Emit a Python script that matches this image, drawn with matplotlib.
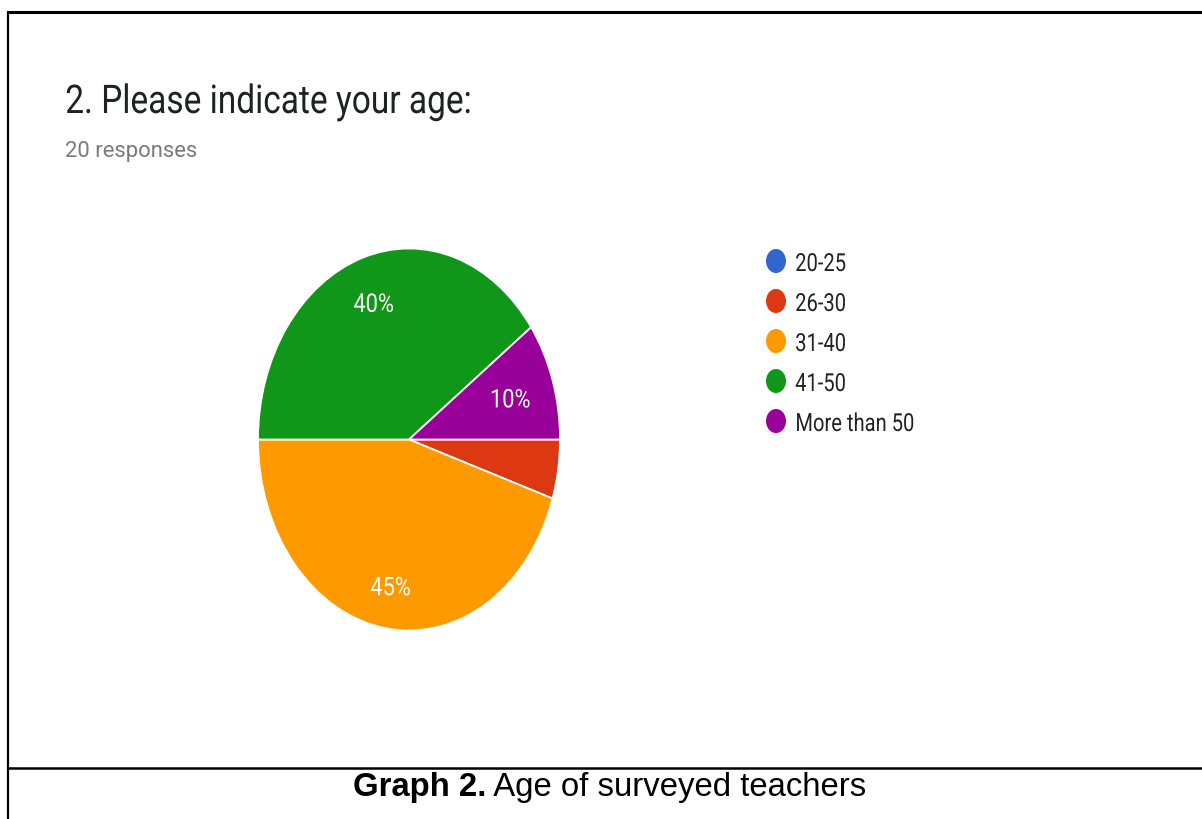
import numpy as np
import matplotlib
matplotlib.use("Agg")
import matplotlib.pyplot as plt
from matplotlib.lines import Line2D
from matplotlib.patches import Ellipse
from matplotlib.patheffects import AbstractPathEffect
from matplotlib.transforms import Affine2D

# Survey data
categories = ["20-25", "26-30", "31-40", "41-50", "More than 50"]
counts = [0, 1, 9, 8, 2]
colors = ["#3366CC", "#DC3912", "#FF9900", "#109618", "#990099"]
title_text = "2. Please indicate your age:"
subtitle_text = "20 responses"
caption_bold = "Graph 2."
caption_rest = " Age of surveyed teachers"

# Radial position of each percentage label (fraction of the radius)
label_radius = [0.75, 0.75, 0.775, 0.755, 0.705]

W, H = 1202, 819


class Narrow(AbstractPathEffect):
    """Draw text glyphs horizontally compressed about an anchor."""

    def __init__(self, sx=0.83, anchor="left"):
        super().__init__()
        self.sx = sx
        self.anchor = anchor

    def draw_path(self, renderer, gc, tpath, affine, rgbFace=None):
        if len(tpath.vertices) == 0:
            return
        ext = tpath.transformed(affine).get_extents()
        x0 = ext.x0 if self.anchor == "left" else 0.5 * (ext.x0 + ext.x1)
        squeeze = Affine2D().translate(-x0, 0).scale(self.sx, 1).translate(x0, 0)
        renderer.draw_path(gc, tpath, affine + squeeze, rgbFace)


fig = plt.figure(figsize=(W / 100, H / 100), dpi=100)
fig.patch.set_facecolor("white")

# Overlay axes in pixel coordinates (origin top-left)
ov = fig.add_axes([0, 0, 1, 1])
ov.set_xlim(0, W)
ov.set_ylim(H, 0)
ov.axis("off")

# Pie, stretched vertically like the form screenshot
cx, cy, rx, ry = 409, 439.5, 151, 191
pax = fig.add_axes([(cx - rx) / W, (H - cy - ry) / H, 2 * rx / W, 2 * ry / H])
wedges, texts, autotexts = pax.pie(
    counts,
    colors=colors,
    startangle=0,
    counterclock=False,
    wedgeprops=dict(edgecolor="white", linewidth=1.3),
    autopct=lambda p: f"{p:.0f}%" if p >= 8 else "",
    pctdistance=0.75,
    textprops=dict(color="white", fontsize=18.5, family="Roboto"),
)
for w, t, r in zip(wedges, autotexts, label_radius):
    ang = np.deg2rad(0.5 * (w.theta1 + w.theta2))
    t.set_position((r * np.cos(ang), r * np.sin(ang)))
    t.set_va("center_baseline")
    t.set_path_effects([Narrow(sx=0.85, anchor="center")])
pax.set_aspect("auto")
pax.set_xlim(-1, 1)
pax.set_ylim(-1, 1)
pax.axis("off")

# Title and subtitle
ov.text(65, 113, title_text, fontsize=28.5, family="Roboto", color="#202124",
        va="baseline", ha="left", path_effects=[Narrow(sx=0.845)])
ov.text(65, 157.5, subtitle_text, fontsize=15.8, family="Roboto", color="#7a7a7a",
        va="baseline", ha="left")

# Legend
for i, (lab, col) in enumerate(zip(categories, colors)):
    base = 271 + 40 * i
    ov.add_patch(Ellipse((776, base - 10), 20, 24, facecolor=col, edgecolor="none"))
    ov.text(795, base, lab, fontsize=17.9, family="Roboto", color="#222222",
            va="baseline", ha="left", path_effects=[Narrow(sx=0.81)])

# Frame lines
ov.add_line(Line2D([8, W], [12, 12], color="black", linewidth=2.2, solid_capstyle="butt"))
ov.add_line(Line2D([8, 8], [11, H], color="black", linewidth=1.6, solid_capstyle="butt"))
ov.add_line(Line2D([8, W], [767.5, 767.5], color="black", linewidth=1.8, solid_capstyle="butt"))

# Caption: bold label followed by regular text, centred as a whole
t1 = ov.text(0, 796, caption_bold, fontsize=23.7, family="Liberation Sans",
             weight="bold", color="black", va="baseline", ha="left")
t2 = ov.text(0, 796, caption_rest, fontsize=23.7, family="Liberation Sans",
             color="black", va="baseline", ha="left")
fig.canvas.draw()
rend = fig.canvas.get_renderer()
w1 = t1.get_window_extent(rend).width
w2 = t2.get_window_extent(rend).width
start = 609.5 - (w1 + w2) / 2
t1.set_x(start)
t2.set_x(start + w1)

fig.savefig("out.png", dpi=100, facecolor="white")
